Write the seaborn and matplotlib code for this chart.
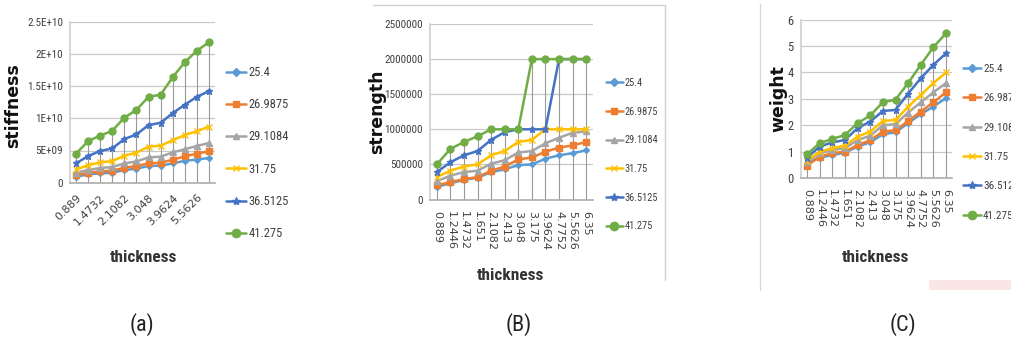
import matplotlib
matplotlib.use("Agg")
import matplotlib.pyplot as plt
import matplotlib.patches as mpatches
from matplotlib.lines import Line2D
from matplotlib import font_manager as fm
import numpy as np
import pandas as pd
import seaborn as sns

sns.set_theme(style="white")

# choose a narrow font if one is available
_fonts = fm.fontManager.ttflist
_names = {f.name for f in _fonts}
NARROW = None
for cand in ["Liberation Sans Narrow", "Roboto Condensed", "Open Sans Condensed", "Arial Narrow"]:
    if cand in _names:
        NARROW = cand
        break
if NARROW is not None:
    plt.rcParams['font.family'] = [NARROW, 'DejaVu Sans']
else:
    plt.rcParams['font.family'] = ['DejaVu Sans']
    if any(f.name == "DejaVu Sans" and f.stretch == "condensed" for f in _fonts):
        plt.rcParams['font.stretch'] = 'condensed'

thickness = ["0.889", "1.2446", "1.4732", "1.651", "2.1082", "2.413",
             "3.048", "3.175", "3.9624", "4.7752", "5.5626", "6.35"]
series = ["25.4", "26.9875", "29.1084", "31.75", "36.5125", "41.275"]

stiffness = {
    "25.4":    [0.93, 1.3, 1.45, 1.55, 1.97, 2.17, 2.6, 2.64, 3.0, 3.4, 3.6, 3.83],
    "26.9875": [1.14, 1.55, 1.76, 1.86, 2.33, 2.6, 3.0, 3.1, 3.57, 4.1, 4.5, 4.87],
    "29.1084": [1.55, 1.97, 2.28, 2.43, 3.0, 3.3, 3.93, 4.04, 4.7, 5.2, 5.7, 6.16],
    "31.75":   [2.07, 2.7, 3.16, 3.36, 4.2, 4.66, 5.6, 5.75, 6.6, 7.4, 8.0, 8.7],
    "36.5125": [3.0, 4.14, 4.92, 5.33, 6.78, 7.5, 8.95, 9.3, 10.8, 12.1, 13.35, 14.2],
    "41.275":  [4.5, 6.47, 7.3, 8.07, 10.1, 11.3, 13.35, 13.66, 16.4, 18.7, 20.5, 21.8],
}  # x 1E9

strength = {
    "25.4":    [0.18, 0.23, 0.28, 0.31, 0.39, 0.43, 0.49, 0.50, 0.58, 0.63, 0.66, 0.70],
    "26.9875": [0.20, 0.25, 0.29, 0.32, 0.41, 0.47, 0.57, 0.60, 0.68, 0.74, 0.77, 0.82],
    "29.1084": [0.26, 0.34, 0.39, 0.41, 0.51, 0.56, 0.67, 0.69, 0.80, 0.88, 0.95, 0.97],
    "31.75":   [0.32, 0.41, 0.47, 0.50, 0.63, 0.69, 0.82, 0.85, 1.0, 1.0, 1.0, 1.0],
    "36.5125": [0.39, 0.53, 0.63, 0.69, 0.85, 0.96, 1.0, 1.0, 1.0, 2.0, 2.0, 2.0],
    "41.275":  [0.50, 0.72, 0.82, 0.90, 1.0, 1.0, 1.0, 2.0, 2.0, 2.0, 2.0, 2.0],
}  # x 1E6

weight = {
    "25.4":    [0.56, 0.77, 0.87, 0.96, 1.19, 1.35, 1.66, 1.73, 2.08, 2.42, 2.71, 3.03],
    "26.9875": [0.47, 0.81, 0.94, 1.0, 1.25, 1.43, 1.76, 1.81, 2.16, 2.52, 2.87, 3.25],
    "29.1084": [0.6, 0.94, 1.06, 1.13, 1.44, 1.6, 2.0, 2.04, 2.48, 2.87, 3.25, 3.6],
    "31.75":   [0.65, 1.0, 1.13, 1.23, 1.57, 1.76, 2.16, 2.2, 2.7, 3.15, 3.6, 4.0],
    "36.5125": [0.77, 1.19, 1.35, 1.44, 1.89, 2.14, 2.54, 2.58, 3.2, 3.78, 4.29, 4.73],
    "41.275":  [0.9, 1.32, 1.48, 1.63, 2.08, 2.37, 2.87, 2.97, 3.6, 4.29, 4.96, 5.49],
}

colors = ["#5B9BD5", "#ED7D31", "#A5A5A5", "#FFC000", "#4472C4", "#70AD47"]
markers = ["D", "s", "^", "x", "*", "o"]
msizes = [3, 4, 4, 4, 5, 5]

W, H = 1012, 345
fig = plt.figure(figsize=(W / 100, H / 100), dpi=100)
fig.patch.set_facecolor("white")

def px_axes(left, top, right, bottom):
    return fig.add_axes([left / W, 1 - bottom / H, (right - left) / W, (bottom - top) / H])

def make_df(d, scale):
    rows = []
    for s in series:
        for i, v in enumerate(d[s]):
            rows.append({"x": i, "value": v * scale, "series": s})
    return pd.DataFrame(rows)

def draw(ax, d, scale, ymax, ystep, yfmt, ylabel, rot, every, ylab_pos, xlab_pos,
         leg_pos, leg_size, leg_space, tick_ha, xt_pad, yt_size):
    df = make_df(d, scale)
    # drop lines
    tops = df.groupby("x")["value"].max()
    ax.vlines(tops.index, 0, tops.values, color="#999999", lw=0.8, zorder=1)
    for s, c, m, ms in zip(series, colors, markers, msizes):
        sub = df[df["series"] == s]
        sns.lineplot(data=sub, x="x", y="value", ax=ax, color=c, marker=m,
                     markersize=ms, markeredgecolor=c, markeredgewidth=1.0,
                     lw=1.8, legend=False, zorder=3)
    ax.set_xlim(-0.5, 11.5)
    ax.set_ylim(0, ymax)
    yt = np.arange(0, ymax + ystep / 2, ystep)
    ax.set_yticks(yt)
    ax.set_yticklabels([yfmt(v) for v in yt], fontsize=yt_size, color="#404040")
    ax.yaxis.grid(True, color="#C8C8C8", lw=0.9)
    ax.set_axisbelow(True)
    idx = list(range(0, 12, every))
    ax.set_xticks(idx)
    ax.set_xticklabels([thickness[i] for i in idx], rotation=rot, fontsize=8,
                       family="DejaVu Sans", fontstretch="normal",
                       color="#404040", ha=tick_ha,
                       rotation_mode="anchor" if rot == 45 else "default")
    for sp in ["top", "right"]:
        ax.spines[sp].set_visible(False)
    ax.spines["left"].set_color("#D0D0D0")
    ax.spines["bottom"].set_color("#B0B0B0")
    ax.tick_params(axis="x", length=0, pad=xt_pad)
    ax.tick_params(axis="y", length=3, color="#C8C8C8", pad=2)
    ax.set_xlabel("")
    ax.set_ylabel("")
    fig.text(ylab_pos[0] / W, 1 - ylab_pos[1] / H, ylabel, rotation=90,
             fontsize=12.5, fontweight="bold", ha="center", va="center",
             family="DejaVu Sans", fontstretch="normal", color="#111111")
    fig.text(xlab_pos[0] / W, 1 - xlab_pos[1] / H, "thickness", fontsize=12.5,
             fontweight="bold", ha="center", va="center", color="#333333")
    handles = [Line2D([0], [0], color=c, marker=m, markersize=ms + 1, lw=1.8,
                      markeredgecolor=c) for c, m, ms in zip(colors, markers, msizes)]
    ax.legend(handles, series, loc="upper left",
              bbox_to_anchor=(leg_pos[0] / W, 1 - leg_pos[1] / H),
              bbox_transform=fig.transFigure, frameon=False, fontsize=leg_size,
              handlelength=1.6, handletextpad=0.2, labelspacing=leg_space,
              borderpad=0, borderaxespad=0, labelcolor="#404040")

def fmt_a(v):
    if v == 0:
        return "0"
    m = v / 1e10
    if m >= 1:
        return ("%g" % m) + "E+10"
    return "%gE+09" % (v / 1e9)

ax1 = px_axes(70, 21.7, 215, 182.7)
draw(ax1, stiffness, 1e9, 2.5e10, 5e9, fmt_a, "stiffness", 45, 2,
     (13, 106), (143, 257), (226, 66), 9, 1.54, "right", 7, 8)

ax2 = px_axes(430, 24, 593, 199.5)
draw(ax2, strength, 1e6, 2.5e6, 5e5, lambda v: "%d" % v, "strength", 270, 1,
     (377, 112), (510, 275), (606, 78), 7.5, 1.79, "center", 8, 8)

ax3 = px_axes(800.7, 19.7, 952.4, 178)
draw(ax3, weight, 1.0, 6, 1, lambda v: "%d" % v, "weight", 270, 1,
     (778, 99), (875, 258), (963, 64), 8, 1.74, "center", 8, 9)

for lab, xx in [("(a)", 142), ("(B)", 519), ("(C)", 903)]:
    fig.text(xx / W, 1 - 325 / H, lab, fontsize=16, ha="center", va="center",
             color="#222222")

# panel borders
fig.add_artist(Line2D([373 / W, 665 / W], [1 - 5 / H, 1 - 5 / H], color="#D0D0D0", lw=1))
fig.add_artist(Line2D([665 / W, 665 / W], [1 - 5 / H, 1 - 280 / H], color="#D0D0D0", lw=1))
fig.add_artist(Line2D([760 / W, 760 / W], [1 - 4 / H, 1 - 290 / H], color="#D8D8D8", lw=1))
fig.add_artist(mpatches.Rectangle((929 / W, 1 - 290 / H), (1012 - 929) / W, 10 / H,
                                  transform=fig.transFigure, color="#FBE6E6", lw=0))

fig.savefig("out.png", dpi=100)
